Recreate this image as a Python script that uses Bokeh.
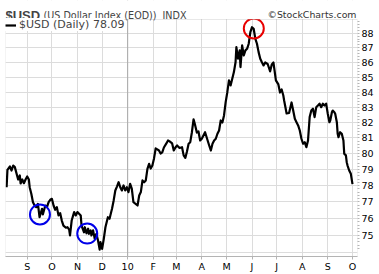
import pandas as pd
from bokeh.plotting import figure
from bokeh.models import (Range1d, FixedTicker, Label, Legend, LegendItem, Span,
                          ColumnDataSource, NumeralTickFormatter, BoxAnnotation)
from bokeh.embed import file_html
from bokeh.resources import INLINE

# ---- data ----
dates = [
    "2009-08-07", "2009-08-08", "2009-08-11", "2009-08-13", "2009-08-15", "2009-08-17",
    "2009-08-21", "2009-08-23", "2009-08-24", "2009-08-26", "2009-08-28", "2009-08-30",
    "2009-09-01", "2009-09-03", "2009-09-04", "2009-09-06", "2009-09-08", "2009-09-10",
    "2009-09-12", "2009-09-14", "2009-09-16", "2009-09-19", "2009-09-20", "2009-09-23",
    "2009-09-25", "2009-09-27", "2009-09-29", "2009-10-01", "2009-10-03", "2009-10-05",
    "2009-10-07", "2009-10-09", "2009-10-11", "2009-10-13", "2009-10-15", "2009-10-18",
    "2009-10-20", "2009-10-22", "2009-10-23", "2009-10-25", "2009-10-28", "2009-10-30",
    "2009-11-01", "2009-11-03", "2009-11-05", "2009-11-06", "2009-11-09", "2009-11-10",
    "2009-11-12", "2009-11-14", "2009-11-15", "2009-11-17", "2009-11-18", "2009-11-20",
    "2009-11-22", "2009-11-24", "2009-11-26", "2009-11-28", "2009-11-29", "2009-12-01",
    "2009-12-03", "2009-12-05", "2009-12-07", "2009-12-08", "2009-12-10", "2009-12-12",
    "2009-12-13", "2009-12-15", "2009-12-17", "2009-12-19", "2009-12-21", "2009-12-23",
    "2009-12-25", "2009-12-27", "2009-12-29", "2009-12-31", "2010-01-02", "2010-01-04",
    "2010-01-06", "2010-01-08", "2010-01-13", "2010-01-15", "2010-01-17", "2010-01-19",
    "2010-01-21", "2010-01-23", "2010-01-25", "2010-01-27", "2010-01-29", "2010-01-31",
    "2010-02-02", "2010-02-04", "2010-02-06", "2010-02-08", "2010-02-10", "2010-02-12",
    "2010-02-14", "2010-02-17", "2010-02-19", "2010-02-21", "2010-02-24", "2010-02-26",
    "2010-02-28", "2010-03-02", "2010-03-05", "2010-03-08", "2010-03-10", "2010-03-12",
    "2010-03-14", "2010-03-16", "2010-03-18", "2010-03-20", "2010-03-22", "2010-03-24",
    "2010-03-26", "2010-03-28", "2010-03-30", "2010-04-01", "2010-04-03", "2010-04-05",
    "2010-04-10", "2010-04-12", "2010-04-14", "2010-04-16", "2010-04-18", "2010-04-20",
    "2010-04-22", "2010-04-24", "2010-04-26", "2010-04-28", "2010-04-30", "2010-05-02",
    "2010-05-04", "2010-05-06", "2010-05-08", "2010-05-10", "2010-05-12", "2010-05-13",
    "2010-05-15", "2010-05-17", "2010-05-18", "2010-05-20", "2010-05-22", "2010-05-24",
    "2010-05-26", "2010-05-28", "2010-05-30", "2010-06-01", "2010-06-03", "2010-06-05",
    "2010-06-07", "2010-06-09", "2010-06-11", "2010-06-13", "2010-06-15", "2010-06-17",
    "2010-06-20", "2010-06-23", "2010-06-25", "2010-06-27", "2010-06-28", "2010-06-30",
    "2010-07-03", "2010-07-05", "2010-07-07", "2010-07-09", "2010-07-10", "2010-07-13",
    "2010-07-16", "2010-07-19", "2010-07-21", "2010-07-23", "2010-07-25", "2010-07-27",
    "2010-07-29", "2010-07-31", "2010-08-02", "2010-08-04", "2010-08-06", "2010-08-08",
    "2010-08-10", "2010-08-12", "2010-08-14", "2010-08-16", "2010-08-18", "2010-08-20",
    "2010-08-22", "2010-08-24", "2010-08-26", "2010-08-28", "2010-08-30", "2010-09-01",
    "2010-09-03", "2010-09-04", "2010-09-06", "2010-09-07", "2010-09-09", "2010-09-10",
    "2010-09-12", "2010-09-13", "2010-09-14", "2010-09-16", "2010-09-18", "2010-09-20",
    "2010-09-21", "2010-09-23", "2010-09-24", "2010-09-25", "2010-09-27", "2010-09-29",
    "2010-10-01",
]
values = [
    77.90, 78.98, 79.19, 78.94, 79.25, 79.15,
    78.38, 78.63, 78.13, 78.38, 78.15, 78.38,
    78.57, 78.38, 77.90, 77.50, 76.98, 76.78,
    76.68, 76.88, 76.07, 76.58, 76.24, 76.78,
    76.68, 76.98, 77.13, 77.19, 76.78, 76.52,
    76.68, 76.18, 76.32, 75.87, 75.57, 75.44,
    75.47, 75.32, 74.98, 75.87, 76.38, 76.18,
    76.38, 76.28, 76.18, 75.57, 75.17, 75.47,
    75.11, 75.38, 75.08, 75.28, 74.98, 75.28,
    74.78, 75.08, 74.68, 74.14, 74.58, 74.19,
    74.78, 75.47, 75.87, 76.07, 75.98, 76.38,
    76.58, 77.09, 77.70, 77.94, 78.21, 77.90,
    77.70, 78.01, 77.70, 77.90, 77.60, 78.11,
    77.82, 76.98, 76.78, 77.39, 77.60, 78.32,
    78.21, 78.32, 79.04, 79.36, 79.06, 79.25,
    79.70, 80.33, 80.27, 80.20, 80.01, 80.08,
    80.39, 80.65, 80.84, 80.78, 80.65, 80.20,
    80.39, 80.52, 80.36, 80.41, 79.89, 79.73,
    80.14, 80.63, 80.73, 81.37, 82.20, 81.81,
    81.35, 81.42, 80.84, 80.95, 81.16, 81.37,
    80.52, 80.20, 80.63, 80.84, 80.95, 81.27,
    81.48, 82.13, 82.00, 82.46, 83.33, 83.99,
    84.78, 84.44, 84.89, 85.34, 86.01, 87.04,
    86.25, 86.82, 85.68, 87.16, 86.47, 86.82,
    86.93, 87.28, 88.08, 88.43, 88.32, 87.63,
    87.28, 86.70, 86.25, 86.01, 85.79, 85.99,
    85.89, 85.39, 85.86, 85.99, 85.59, 84.78,
    84.51, 83.97, 84.17, 83.77, 83.44, 82.59,
    82.62, 83.31, 82.78, 82.24, 82.02, 81.81,
    81.48, 80.95, 80.63, 80.73, 80.41, 80.84,
    82.35, 82.78, 82.90, 82.35, 83.00, 83.11,
    83.23, 83.00, 83.23, 83.11, 83.23, 82.57,
    82.02, 82.13, 82.67, 82.78, 82.67, 82.57,
    82.02, 81.27, 81.05, 81.37, 81.27, 80.84,
    79.99, 79.89, 79.46, 79.25, 78.94, 78.73,
    78.09,
]

month_starts = ["2009-09-01", "2009-10-01", "2009-11-01", "2009-12-01", "2010-01-01",
                "2010-02-01", "2010-03-01", "2010-04-01", "2010-05-01", "2010-06-01",
                "2010-07-01", "2010-08-01", "2010-09-01", "2010-10-01"]
month_labels = ["S", "O", "N", "D", "10", "F", "M", "A", "M", "J", "J", "A", "S", "O"]

price_ticks = [75, 76, 77, 78, 79, 80, 81, 82, 83, 84, 85, 86, 87, 88]
price_grid = [74, 75, 76, 77, 78, 79, 80, 81, 82, 83, 84, 85, 86, 87, 88]

circle_dates = ["2009-09-16 12:00", "2009-11-12 22:00", "2010-06-03 04:00"]
circle_values = [76.24, 75.09, 88.34]
circle_colors = ["#0000e8", "#0000e8", "#e80000"]

title_symbol = "$USD"
title_name = "(US Dollar Index (EOD))"
title_exchange = "INDX"
credit = "\u00a9StockCharts.com"
series_name = "$USD (Daily)"


def ms(s):
    return int(pd.Timestamp(s).value // 10**6)


# layout constants (pixels)
FRAME_H = 256          # frame spans canvas rows 0..256
HEADER = 19            # top rows used by the title strip
GRID_COL = "#dcdcdc"
EDGE_COL = "#b4b4b4"

x = pd.to_datetime(dates)
src = ColumnDataSource(dict(x=x, y=values))
csrc = ColumnDataSource(dict(x=pd.to_datetime(circle_dates), y=circle_values, c=circle_colors))

p = figure(width=379, height=274, x_axis_type="datetime", y_axis_type="log",
           y_axis_location="right",
           x_range=Range1d(ms("2009-08-05 15:40"), ms("2010-10-07 02:00")),
           y_range=Range1d(73.74, 90.32),
           output_backend="svg", toolbar_location=None,
           min_border_left=5, min_border_right=22, min_border_top=0, min_border_bottom=18)
p.background_fill_color = "white"
p.border_fill_color = "white"
p.outline_line_color = None

# grids
p.xgrid.grid_line_color = GRID_COL
p.ygrid.grid_line_color = GRID_COL
p.ygrid.ticker = FixedTicker(ticks=price_grid)
p.add_layout(Span(location=ms("2010-01-01"), dimension="height", line_color="#a8a8a8",
                  line_width=1, level="underlay"))

# x axis
p.xaxis.ticker = FixedTicker(ticks=[ms(d) for d in month_starts])
p.xaxis.major_label_overrides = {ms(d): lab for d, lab in zip(month_starts, month_labels)}
p.xaxis.axis_line_color = EDGE_COL
p.xaxis.major_tick_line_color = EDGE_COL
p.xaxis.major_tick_out = 3
p.xaxis.major_tick_in = 0
p.xaxis.minor_tick_line_color = None
p.xaxis.major_label_standoff = 1
p.xaxis.major_label_text_font = "DejaVu Sans"
p.xaxis.major_label_text_font_size = "9.5px"
p.xaxis.major_label_text_color = "black"

# y axis (right, log)
minor = []
for t in price_grid:
    for k in range(1, 5):
        minor.append(t + 0.2 * k)
p.yaxis.ticker = FixedTicker(ticks=price_ticks, minor_ticks=minor)
p.yaxis.formatter = NumeralTickFormatter(format="0")
p.yaxis.axis_line_color = None
p.yaxis.major_tick_line_color = EDGE_COL
p.yaxis.minor_tick_line_color = EDGE_COL
p.yaxis.major_tick_out = 2
p.yaxis.major_tick_in = 0
p.yaxis.minor_tick_out = 2
p.yaxis.minor_tick_in = 0
p.yaxis.major_label_standoff = 2
p.yaxis.major_label_text_font = "DejaVu Sans"
p.yaxis.major_label_text_font_size = "9.5px"
p.yaxis.major_label_text_color = "black"

# data line
r = p.line("x", "y", source=src, line_color="black", line_width=2.2, line_join="round")

# circles
p.scatter("x", "y", source=csrc, marker="circle", size=20, fill_alpha=0,
          line_color="c", line_width=2)

# white title strip over the top of the frame, then the chart border
p.add_layout(BoxAnnotation(top=FRAME_H, bottom=FRAME_H - HEADER + 0.5, top_units="screen",
                           bottom_units="screen", fill_color="white", fill_alpha=1,
                           line_color=None, level="annotation"))
p.add_layout(BoxAnnotation(top=FRAME_H - HEADER, bottom=0, top_units="screen",
                           bottom_units="screen", fill_alpha=0, line_color=EDGE_COL,
                           line_width=1, level="annotation"))

# legend
legend = Legend(items=[LegendItem(label=f"{series_name} {values[-1]:.2f}", renderers=[r])],
                location=(0, FRAME_H - HEADER - 12), margin=0, padding=1, spacing=0,
                glyph_width=11, glyph_height=10, label_height=10, label_standoff=3,
                label_text_font="DejaVu Sans", label_text_font_size="11px",
                border_line_color=None, background_fill_color="white",
                background_fill_alpha=1.0)
p.add_layout(legend)
# legend swatch (short thick dash before the legend text)
p.add_layout(BoxAnnotation(left=5, right=11.5, top=FRAME_H - 24.2, bottom=FRAME_H - 26.8,
                           left_units="screen", right_units="screen",
                           top_units="screen", bottom_units="screen",
                           fill_color="black", fill_alpha=1, line_color=None,
                           level="annotation"))

# title texts (screen units relative to the frame, inside the white strip)
ty = FRAME_H - 14.5
p.add_layout(Label(x=0, y=ty, x_units="screen", y_units="screen", text=title_symbol,
                   text_font="Liberation Sans", text_font_style="bold",
                   text_font_size="13px", text_baseline="alphabetic"))
p.add_layout(Label(x=38, y=ty, x_units="screen", y_units="screen", text=title_name,
                   text_font="DejaVu Sans", text_font_size="9.6px",
                   text_baseline="alphabetic"))
p.add_layout(Label(x=157, y=ty, x_units="screen", y_units="screen", text=title_exchange,
                   text_font="DejaVu Sans", text_font_size="9.6px",
                   text_baseline="alphabetic"))
p.add_layout(Label(x=351, y=ty + 0.5, x_units="screen", y_units="screen", text=credit,
                   text_font="DejaVu Sans", text_font_size="9.4px", text_align="right",
                   text_baseline="alphabetic", text_color="#333333"))

open("out.html", "w").write(file_html(p, INLINE))
